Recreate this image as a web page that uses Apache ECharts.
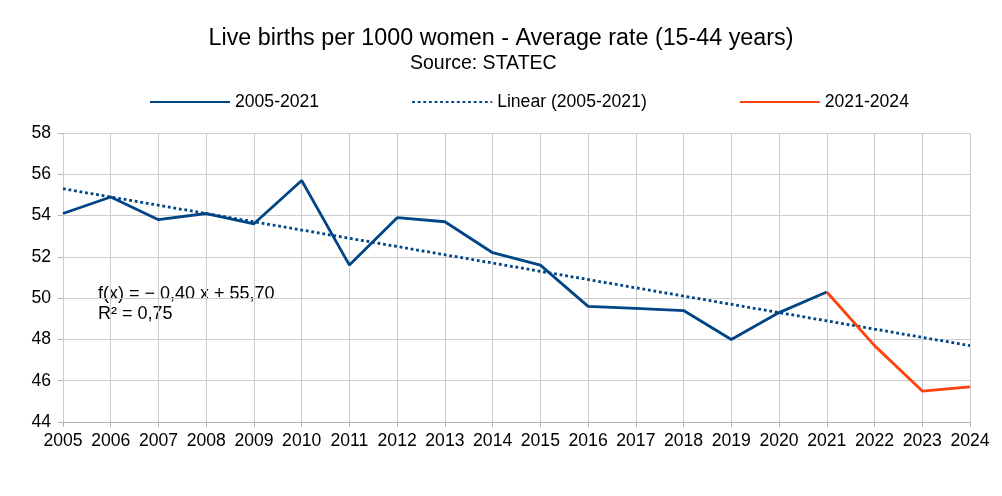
<!DOCTYPE html>
<html><head><meta charset="utf-8">
<script src="https://cdn.jsdelivr.net/npm/echarts@6/dist/echarts.min.js"></script>
<style>html,body{margin:0;padding:0;background:#fff}#c{width:1002px;height:496px}</style>
</head><body><div id="c"></div>
<script>
const years = ['2005','2006','2007','2008','2009','2010','2011','2012','2013','2014','2015','2016','2017','2018','2019','2020','2021','2022','2023','2024'];
const rate0521 = [54.1,54.9,53.8,54.1,53.6,55.7,51.6,53.9,53.7,52.2,51.6,49.6,49.5,49.4,48.0,49.3,50.3,null,null,null];
const rate2124 = [null,null,null,null,null,null,null,null,null,null,null,null,null,null,null,null,50.3,47.7,45.5,45.7];
const trend = [55.3,null,null,null,null,null,null,null,null,null,null,null,null,null,null,null,null,null,null,47.7];
const yTicks = [44,46,48,50,52,54,56,58];

const FONT = '"Liberation Sans", Arial, sans-serif';
const BLUE = '#004586', ORANGE = '#ff420e';
const chart = echarts.init(document.getElementById('c'));
chart.setOption({
  animation: false,
  title: [
    {text: 'Live births per 1000 women - Average rate (15-44 years)', left: 'center', top: 22,
     textStyle: {fontFamily: FONT, fontSize: 23.3, fontWeight: 'normal', color: '#000'}},
    {text: 'Source: STATEC', left: 405, top: 49,
     textStyle: {fontFamily: FONT, fontSize: 19.5, fontWeight: 'normal', color: '#000'}}
  ],
  legend: {
    top: 88, left: 144, itemGap: 92, itemWidth: 80, itemHeight: 14,
    itemStyle: {opacity: 0},
    textStyle: {fontFamily: FONT, fontSize: 17.6, color: '#000'},
    data: ['2005-2021', 'Linear (2005-2021)', '2021-2024']
  },
  grid: {left: 63, right: 32, top: 133, bottom: 74},
  xAxis: {
    type: 'category', data: years, boundaryGap: false,
    axisLine: {show: true, lineStyle: {color: '#b3b3b3'}},
    axisTick: {show: true, length: 5, alignWithLabel: true, interval: 0, lineStyle: {color: '#b3b3b3'}},
    axisLabel: {interval: 0, fontFamily: FONT, fontSize: 17.6, color: '#000', margin: 10},
    splitLine: {show: true, interval: 0, lineStyle: {color: '#cccccc'}}
  },
  yAxis: {
    type: 'value', min: 44, max: 58, interval: 2,
    axisLine: {show: false},
    axisTick: {show: true, length: 5, lineStyle: {color: '#b3b3b3'}},
    axisLabel: {fontFamily: FONT, fontSize: 17.6, color: '#000', margin: 12,
      formatter: v => yTicks.includes(v) ? String(v) : ''},
    splitLine: {show: true, lineStyle: {color: '#cccccc'}}
  },
  series: [
    {name: '2005-2021', type: 'line', data: rate0521, symbol: 'none',
     lineStyle: {color: BLUE, width: 2.8}, itemStyle: {color: BLUE}, z: 3},
    {name: 'Linear (2005-2021)', type: 'line', data: trend, connectNulls: true, symbol: 'none',
     lineStyle: {color: BLUE, width: 2.8, type: [2.8, 2.8]}, itemStyle: {color: BLUE}, z: 2},
    {name: '2021-2024', type: 'line', data: rate2124, symbol: 'none',
     lineStyle: {color: ORANGE, width: 2.8}, itemStyle: {color: ORANGE}, z: 3}
  ],
  graphic: [
    {type: 'text', left: 98, top: 284,
     style: {text: 'f(x) = − 0,40 x + 55,70\nR² = 0,75', font: '18px ' + FONT, fill: '#000', lineHeight: 20}}
  ]
});
</script></body></html>
